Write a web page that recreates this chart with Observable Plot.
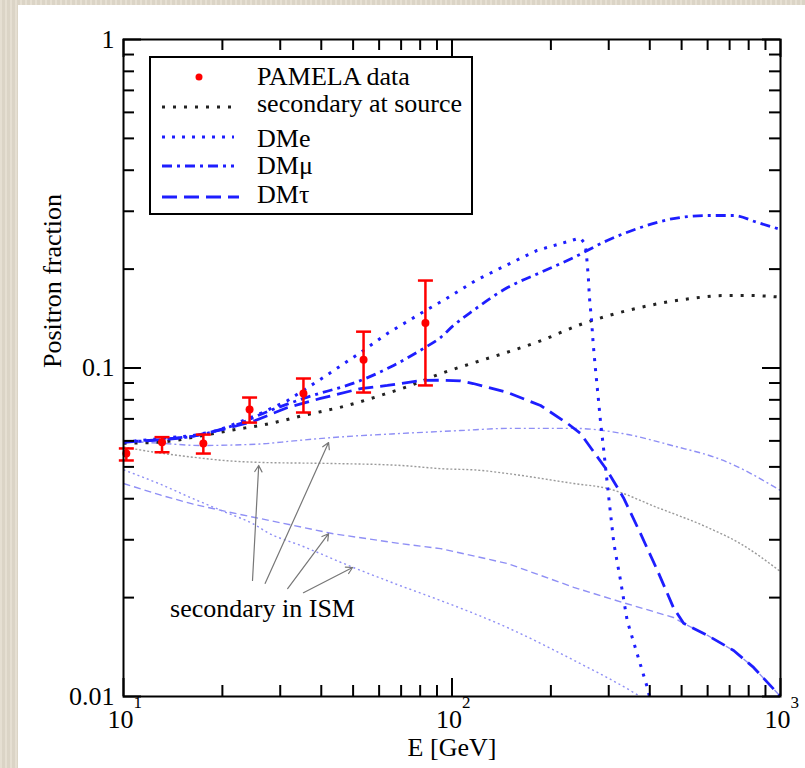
<!DOCTYPE html>
<html><head><meta charset="utf-8">
<script src="https://cdn.jsdelivr.net/npm/d3@7"></script>
<script src="https://cdn.jsdelivr.net/npm/@observablehq/plot@0.6"></script>
<style>
html,body{margin:0;padding:0;}
body{width:805px;height:768px;background:#e2dbcc;position:relative;overflow:hidden;
 background-image:repeating-linear-gradient(90deg,rgba(255,255,255,0.12) 0 2px,rgba(0,0,0,0.03) 2px 5px);}
#chart{position:absolute;left:18px;top:5px;width:787px;height:763px;background:#fff;}
</style></head><body><div id="chart"></div>
<script>
// ---- PAMELA data ----
const pamelaE    = [10.2, 13.1, 17.5, 24.2, 35.3, 53.8, 83.0];
const pamelaFrac = [0.0549, 0.0594, 0.0589, 0.0747, 0.0836, 0.106, 0.137];
const pamelaLow  = [0.0523, 0.0554, 0.0549, 0.0682, 0.0732, 0.0842, 0.0885];
const pamelaHigh = [0.0569, 0.0616, 0.0627, 0.0813, 0.0929, 0.129, 0.1846];

// ---- model curves: [E (GeV), positron fraction] ----
const secondarySource = [[10,0.059],[13,0.0595],[17,0.062],[21,0.0645],[28,0.0678],[35.3,0.0717],[48,0.0769],[60.6,0.0825],[75,0.0885],[92,0.096],[120,0.1047],[131,0.1076],[186,0.121],[251,0.1366],[342,0.1496],[532,0.1627],[671,0.1662],[800,0.1662],[1000,0.1643]];
const dmElectron = [[10,0.0595],[13,0.061],[16.3,0.0623],[19.3,0.0645],[23,0.069],[26.1,0.0727],[31.6,0.0796],[40.6,0.0936],[52.7,0.1115],[63.6,0.1274],[80.2,0.1465],[95.5,0.162],[118,0.1846],[145.5,0.205],[181.6,0.228],[227,0.2432],[246,0.249],[253,0.24],[256,0.228],[258,0.2076],[260,0.189],[262,0.1643],[266,0.1395],[269,0.1185],[273,0.1006],[278,0.0834],[283,0.0692],[289,0.0574],[300,0.0404],[311,0.0292],[326,0.0225],[341.5,0.017],[366,0.0135],[393,0.01067],[400,0.0099]];
const dmMuon = [[10,0.0595],[13,0.0605],[16.3,0.062],[20.7,0.0659],[23.2,0.0684],[24.9,0.0707],[35.3,0.0808],[52.7,0.0916],[66.4,0.1018],[81.9,0.1147],[92.3,0.1238],[101,0.1347],[116,0.1496],[147.6,0.1758],[186,0.1953],[234.6,0.217],[297,0.2444],[375,0.2677],[472,0.285],[600,0.2912],[720,0.2912],[851,0.2773],[1000,0.264]];
const dmTau = [[10,0.0595],[13,0.0605],[16.3,0.062],[20.7,0.0655],[25,0.069],[31.6,0.0758],[39.8,0.0808],[52.7,0.0866],[63.6,0.0885],[80.2,0.0916],[92.3,0.0918],[106,0.0914],[116,0.0897],[147.6,0.0842],[186,0.0769],[224.7,0.0678],[246,0.0632],[297,0.0487],[332.6,0.0403],[375,0.0313],[422,0.0242],[472,0.01866],[507,0.0167],[600,0.01534],[720,0.0138],[828,0.01226],[1000,0.0100]];
// secondary in ISM (thin lines)
const ismMuon = [[10,0.060],[13,0.059],[17.2,0.0581],[26,0.0587],[33,0.060],[43,0.0614],[70,0.0632],[106,0.0645],[150,0.0655],[235,0.0655],[330,0.0632],[470,0.058],[670,0.0523],[1000,0.0424]];
const ismSource = [[10,0.0575],[11.5,0.0561],[16.3,0.0535],[20.7,0.0522],[26,0.0516],[43.5,0.0512],[70,0.0505],[92,0.0494],[122,0.0488],[148,0.0477],[235,0.0445],[297,0.043],[422,0.0376],[600,0.0327],[755,0.0292],[1000,0.024]];
const ismTau = [[10,0.0445],[13,0.041],[16.3,0.0385],[20.7,0.0365],[26.1,0.0348],[43.5,0.0313],[69.7,0.0292],[92.3,0.0282],[147.6,0.0254],[234.6,0.0215],[332.6,0.0193],[472,0.0174],[507,0.0167],[600,0.01534],[720,0.0138],[828,0.01226],[1000,0.0100]];
const ismElectron = [[10,0.049],[13,0.0442],[16.3,0.0400],[20.7,0.0362],[24.9,0.0335],[27.4,0.0316],[35,0.0287],[50.1,0.0247],[70,0.0217],[92.3,0.0196],[147.6,0.0162],[234.6,0.0129],[362,0.0102],[380,0.0099]];

// ---- annotation arrows "secondary in ISM" ----
const arrowFromE = [24.7, 27.0, 31.6, 35.3];
const arrowFromF = [0.02255, 0.0221, 0.0213, 0.0207];
const arrowToE   = [25.8, 42.1, 42.1, 49.8];
const arrowToF   = [0.0505, 0.0593, 0.0313, 0.0247];
const noteText = ["secondary in ISM"];
const noteE = [26.5], noteF = [0.0185];

// ---- axes ----
const xMajor = [10, 100, 1000];
const xMinor = [20,30,40,50,60,70,80,90,200,300,400,500,600,700,800,900];
const yMajor = [0.01, 0.1, 1];
const yMinor = [0.02,0.03,0.04,0.05,0.06,0.07,0.08,0.09,0.2,0.3,0.4,0.5,0.6,0.7,0.8,0.9];
const yTickLabels = ["0.01", "0.1", "1"];
const xLabel = "E [GeV]", yLabel = "Positron fraction";

// ---- legend ----
const legendLabels = ["PAMELA data", "secondary at source", "DMe", "DMμ", "DMτ"];

const FONT = '"Liberation Serif", "Times New Roman", Times, serif';
const BLUE = "#1e1eff", PALE = "#8f8ff5";
const styles = {
  source: {stroke: "#222", strokeWidth: 3, strokeDasharray: "3,8"},
  dme:    {stroke: BLUE, strokeWidth: 3, strokeDasharray: "3,7"},
  dmmu:   {stroke: BLUE, strokeWidth: 2.8, strokeDasharray: "10,5,3,5"},
  dmtau:  {stroke: BLUE, strokeWidth: 2.8, strokeDasharray: "15,7"},
};

const pamela = pamelaE.map((e, i) => ({e, f: pamelaFrac[i], lo: pamelaLow[i], hi: pamelaHigh[i]}));
const arrows = arrowFromE.map((e, i) => ({x1: e, y1: arrowFromF[i], x2: arrowToE[i], y2: arrowToF[i]}));
const capSymbol = {draw(ctx, size) { const w = Math.sqrt(size / Math.PI); ctx.moveTo(-w, 0); ctx.lineTo(w, 0); }};

const W = 787, H = 763, mL = 105, mR = 25, mT = 34, mB = 72;
const iw = W - mL - mR, ih = H - mT - mB;
const MAJ = 18, MIN = 11;
const lineOpts = (extra, curve = "monotone-x") => ({x: d => d[0], y: d => d[1], curve, clip: true, strokeLinecap: "butt", ...extra});

const chart = Plot.plot({
  width: W, height: H,
  marginLeft: mL, marginRight: mR, marginTop: mT, marginBottom: mB,
  style: {fontFamily: FONT, fontSize: "26px", background: "transparent", color: "#000"},
  x: {type: "log", domain: [10, 1000]},
  y: {type: "log", domain: [0.01, 1]},
  marks: [
    // thin "secondary in ISM" curves
    Plot.line(ismMuon, lineOpts({stroke: PALE, strokeWidth: 1.4, strokeDasharray: "6,3,2,3"})),
    Plot.line(ismSource, lineOpts({stroke: "#9a9a9a", strokeWidth: 1.4, strokeDasharray: "2,2"})),
    Plot.line(ismTau, lineOpts({stroke: PALE, strokeWidth: 1.4, strokeDasharray: "7,4"}, "linear")),
    Plot.line(ismElectron, lineOpts({stroke: PALE, strokeWidth: 1.4, strokeDasharray: "2,3"})),
    // main curves
    Plot.line(secondarySource, lineOpts(styles.source)),
    Plot.line(dmElectron, lineOpts(styles.dme, "linear")),
    Plot.line(dmMuon, lineOpts(styles.dmmu)),
    Plot.line(dmTau, lineOpts(styles.dmtau, "linear")),
    // PAMELA points with error bars
    Plot.ruleX(pamela, {x: "e", y1: "lo", y2: "hi", stroke: "#ff0000", strokeWidth: 2.5}),
    Plot.dot(pamela, {x: "e", y: "lo", symbol: capSymbol, r: 7.5, stroke: "#ff0000", strokeWidth: 2.5}),
    Plot.dot(pamela, {x: "e", y: "hi", symbol: capSymbol, r: 7.5, stroke: "#ff0000", strokeWidth: 2.5}),
    Plot.dot(pamela, {x: "e", y: "f", r: 4, fill: "#ff0000", stroke: "none"}),
    // arrows + annotation
    Plot.arrow(arrows, {x1: "x1", y1: "y1", x2: "x2", y2: "y2", stroke: "#777", strokeWidth: 1.2, headLength: 9}),
    Plot.text(noteText, {x: noteE, y: noteF, text: d => d, fontSize: 26}),
    // ticks (inward, all four sides)
    Plot.ruleX(xMajor, {x: d => d, insetTop: ih - MAJ, stroke: "#000", strokeWidth: 2}),
    Plot.ruleX(xMinor, {x: d => d, insetTop: ih - MIN, stroke: "#000", strokeWidth: 2}),
    Plot.ruleX(xMajor, {x: d => d, insetBottom: ih - MAJ, stroke: "#000", strokeWidth: 2}),
    Plot.ruleX(xMinor, {x: d => d, insetBottom: ih - MIN, stroke: "#000", strokeWidth: 2}),
    Plot.ruleY(yMajor, {y: d => d, insetRight: iw - MAJ, stroke: "#000", strokeWidth: 2}),
    Plot.ruleY(yMinor, {y: d => d, insetRight: iw - MIN, stroke: "#000", strokeWidth: 2}),
    Plot.ruleY(yMajor, {y: d => d, insetLeft: iw - MAJ, stroke: "#000", strokeWidth: 2}),
    Plot.ruleY(yMinor, {y: d => d, insetLeft: iw - MIN, stroke: "#000", strokeWidth: 2}),
    Plot.frame({stroke: "#000", strokeWidth: 2}),
    // axes
    Plot.axisY({ticks: yMajor, tickSize: 0, tickPadding: 9, fontSize: 26, tickFormat: d => yTickLabels[yMajor.indexOf(d)], label: null}),
    Plot.axisX({ticks: xMajor, tickSize: 0, tickPadding: 13, fontSize: 26, dx: -3, tickFormat: () => "10", label: null}),
    Plot.text(xMajor, {x: d => d, frameAnchor: "bottom", text: d => String(Math.round(Math.log10(d))), dx: 10, dy: 11, fontSize: 17, textAnchor: "start"}),
    Plot.text([xLabel], {frameAnchor: "bottom", text: d => d, dy: 59, fontSize: 26}),
    Plot.text([yLabel], {frameAnchor: "left", text: d => d, dx: -71, rotate: -90, fontSize: 26})
  ]
});
document.getElementById("chart").appendChild(chart);

// ---- legend (inside plot, upper left) ----
const svg = d3.select(chart);
const lg = svg.append("g").attr("font-family", FONT).attr("font-size", 26).attr("text-anchor", "start");
lg.append("rect").attr("x", 132).attr("y", 52).attr("width", 322).attr("height", 157)
  .attr("fill", "#fff").attr("stroke", "#000").attr("stroke-width", 2);
const rowY = [72, 102, 132, 161, 192];
const baseY = [80, 107, 142, 169, 198];
lg.append("circle").attr("cx", 181).attr("cy", rowY[0]).attr("r", 3.5).attr("fill", "#ff0000");
[styles.source, styles.dme, styles.dmmu, styles.dmtau].forEach((s, i) => {
  lg.append("line").attr("x1", 144).attr("x2", i === 3 ? 221 : 216)
    .attr("y1", rowY[i + 1]).attr("y2", rowY[i + 1])
    .attr("stroke", s.stroke).attr("stroke-width", s.strokeWidth).attr("stroke-dasharray", s.strokeDasharray);
});
legendLabels.forEach((t, i) => {
  lg.append("text").attr("x", 239).attr("y", baseY[i]).attr("text-anchor", "start").attr("fill", "#000").text(t);
});
</script></body></html>
